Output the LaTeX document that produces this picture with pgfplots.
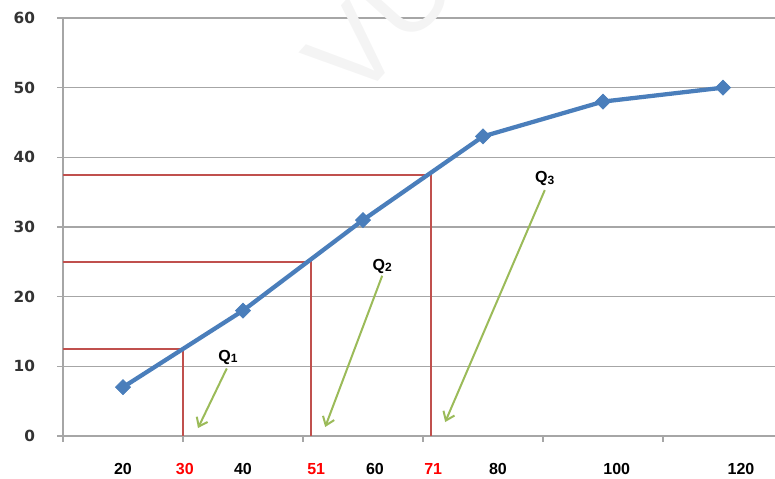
\documentclass[border=0pt]{standalone}
\usepackage{pgfplots}
\pgfplotsset{compat=1.18}
\usetikzlibrary{arrows.meta}
\usepackage{fontspec}
\setmainfont{Liberation Sans}
\newfontfamily\dejavu{DejaVu Sans}
\definecolor{lineblue}{HTML}{4A7EBB}
\definecolor{qred}{HTML}{C0504D}
\definecolor{qgreen}{HTML}{9BBB59}
\definecolor{gridgray}{HTML}{A6A6A6}
\begin{document}
\begin{tikzpicture}
\begin{axis}[
  scale only axis, width=534pt, height=313.5pt,
  xmin=10, xmax=128.67, ymin=0, ymax=60,
  axis x line*=bottom, axis y line*=left,
  axis line style={gridgray, line width=1pt},
  /pgf/number format/assume math mode=true,
  ytick={0,10,...,60}, ymajorgrids,
  grid style={gridgray, line width=1pt},
  tick align=outside, major tick length=4.5pt,
  tick style={gridgray, line width=1pt},
  xtick={10,30,50,70,90,110}, xticklabels={},
  extra x ticks={20,30.3,40,52.2,62,71.7,82.5,102.3,123},
  extra x tick labels={20,\textcolor{red}{30},40,\textcolor{red}{51},60,\textcolor{red}{71},80,100,120},
  extra x tick style={major tick length=0pt, tick label style={yshift=-17pt}},
  xticklabel style={font=\bfseries\fontsize{12}{12}\selectfont, text=black},
  yticklabel style={font=\dejavu\bfseries\fontsize{11.5}{12}\selectfont, text=black!80, xshift=-13pt},
  clip=false,
]
\coordinate (sw) at (rel axis cs:0,0);
\coordinate (ne) at (rel axis cs:1,1);
\node[rotate=48, text=gray!9, font=\fontsize{85}{85}\selectfont] at (axis cs:63,59.5) {VU};
\addplot[qred, line width=1.6pt] coordinates {(10,12.5) (30,12.5) (30,0)};
\addplot[qred, line width=1.6pt] coordinates {(10,25) (51.3,25) (51.3,0)};
\addplot[qred, line width=1.6pt] coordinates {(10,37.5) (71.3,37.5) (71.3,0)};
\addplot[lineblue, line width=3.2pt, mark=square*, mark size=4pt, mark options={rotate=45, line width=0.5pt, fill=lineblue}] coordinates {
  (20,7) (40,18) (60,31) (80,43) (100,48) (120,50)};
\addplot[qgreen, line width=1.5pt, -{Straight Barb[length=6pt,width=9pt]}] coordinates {(37.3,9.7) (32.5,1.14)};
\addplot[qgreen, line width=1.5pt, -{Straight Barb[length=6pt,width=9pt]}] coordinates {(63.2,23.0) (53.7,1.29)};
\addplot[qgreen, line width=1.5pt, -{Straight Barb[length=6pt,width=9pt]}] coordinates {(90.3,35.3) (73.7,2.0)};
\node[font=\bfseries\fontsize{12}{12}\selectfont] at (axis cs:37.5,11.3) {Q\raisebox{-1pt}{\small 1}};
\node[font=\bfseries\fontsize{12}{12}\selectfont] at (axis cs:63.2,24.4) {Q\raisebox{-1pt}{\small 2}};
\node[font=\bfseries\fontsize{12}{12}\selectfont] at (axis cs:90.3,36.9) {Q\raisebox{-1pt}{\small 3}};
\end{axis}
\pgfresetboundingbox
\path[use as bounding box] ([xshift=-47.25pt,yshift=-32.25pt]sw) rectangle ([yshift=13.5pt]ne);
\end{tikzpicture}
\end{document}
